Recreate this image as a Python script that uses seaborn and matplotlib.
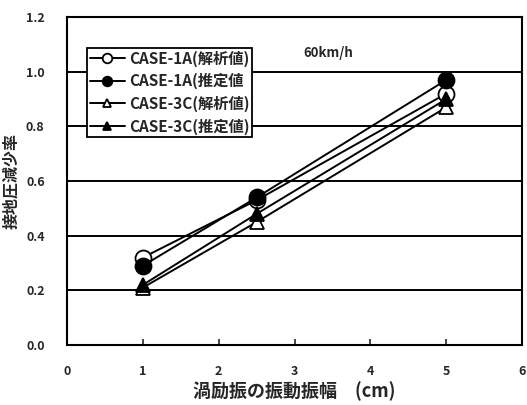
import matplotlib
matplotlib.use("Agg")
import matplotlib.pyplot as plt
import seaborn as sns
import pandas as pd

# Vortex-induced vibration amplitude (cm)
amplitude = [1.0, 2.5, 5.0]

# Contact-pressure reduction ratio for each case
case1a_analysis = [0.32, 0.53, 0.92]
case1a_estimate = [0.29, 0.54, 0.97]
case3c_analysis = [0.21, 0.45, 0.87]
case3c_estimate = [0.22, 0.48, 0.90]

series_labels = ["CASE-1A(解析値)", "CASE-1A(推定値", "CASE-3C(解析値)", "CASE-3C(推定値)"]
x_ticks = [0, 1, 2, 3, 4, 5, 6]
y_ticks = [0.0, 0.2, 0.4, 0.6, 0.8, 1.0, 1.2]

sns.set_style("white")
plt.rcParams["font.family"] = ["Noto Sans CJK JP", "DejaVu Sans"]
plt.rcParams["font.weight"] = "bold"

fig = plt.figure(figsize=(5.27, 4.05), dpi=100)
ax = fig.add_axes([0.127, 0.148, 0.864, 0.81])

styles = [
    dict(marker="o", markerfacecolor="white", markersize=11.5),
    dict(marker="o", markerfacecolor="black", markersize=11.5),
    dict(marker="^", markerfacecolor="white", markersize=10),
    dict(marker="^", markerfacecolor="black", markersize=10),
]
values = [case1a_analysis, case1a_estimate, case3c_analysis, case3c_estimate]

for i, (vals, lab, st) in enumerate(zip(values, series_labels, styles)):
    df = pd.DataFrame({"amp": amplitude, "ratio": vals})
    sns.lineplot(data=df, x="amp", y="ratio", ax=ax, color="black",
                 linewidth=1.4, markeredgecolor="black", markeredgewidth=1.3,
                 label=lab, zorder=3 + i, **st)

ax.set_xlim(0, 6)
ax.set_ylim(0, 1.2)
ax.set_xticks(x_ticks)
ax.set_yticks(y_ticks)
ax.set_xticklabels([str(t) for t in x_ticks])
ax.set_yticklabels([f"{t:.1f}" for t in y_ticks])
ax.yaxis.grid(True, color="black", linewidth=1.4)
ax.xaxis.grid(False)
ax.tick_params(axis="x", direction="in", length=4, width=1.2, pad=14,
               labelsize=9, bottom=True)
ax.tick_params(axis="y", length=0, pad=16, labelsize=9)
for sp in ax.spines.values():
    sp.set_color("black")
    sp.set_linewidth(1.5)

ax.set_xlabel("渦励振の振動振幅　(cm)", fontsize=13, fontweight="bold", labelpad=3)
ax.set_ylabel("接地圧減少率", fontsize=11.5, fontweight="bold", labelpad=5)

ax.text(3.44, 1.07, "60km/h", fontsize=9.5, fontweight="bold", ha="center", va="center")

leg = ax.legend(loc="upper left", bbox_to_anchor=(0.045, 0.905), frameon=True,
                fancybox=False, edgecolor="black", framealpha=1,
                fontsize=11, markerscale=0.6, handlelength=2.3,
                handletextpad=0.3, labelspacing=0.42, borderpad=0.15,
                borderaxespad=0.0)
leg.get_frame().set_linewidth(1.3)
for t in leg.get_texts():
    t.set_fontweight("bold")
leg.set_zorder(10)

fig.savefig("out.png", dpi=100)
